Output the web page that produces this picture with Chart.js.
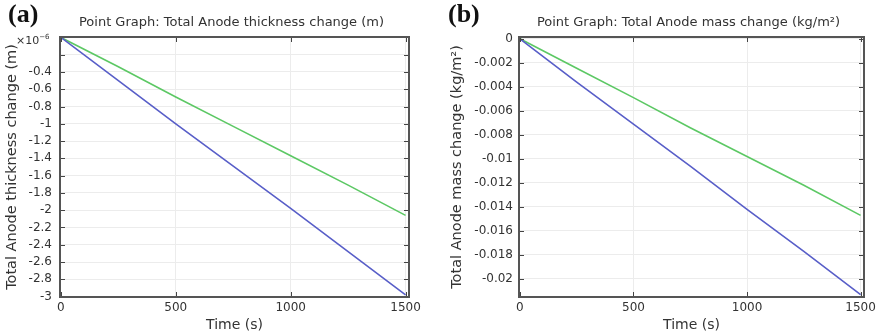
<!DOCTYPE html>
<html>
<head>
<meta charset="utf-8">
<script src="https://cdn.jsdelivr.net/npm/chart.js@4"></script>
<style>
    body { margin: 0; background: #fff; }
    .panel { position: absolute; top: 0; }
</style>
</head>
<body>
<div class="panel" style="left:0;"><canvas id="chart_a" width="440" height="335"></canvas></div>
<div class="panel" style="left:440px;"><canvas id="chart_b" width="442" height="335"></canvas></div>
<script>
// time points (s)
const times = [0, 250, 500, 750, 1000, 1250, 1500];

// (a) thickness change, units of 1e-6 m
const thick_blue = [0, -0.5, -1.0, -1.49, -1.98, -2.48, -2.98];
const thick_green = [0, -0.34, -0.69, -1.03, -1.37, -1.71, -2.06];
const thick_ticks = [0, -0.2, -0.4, -0.6, -0.8, -1, -1.2, -1.4, -1.6, -1.8, -2, -2.2, -2.4, -2.6, -2.8, -3];

// (b) mass change, kg/m2
const mass_blue = [0, -0.0036, -0.0071, -0.0106, -0.0142, -0.0177, -0.0213];
const mass_green = [0, -0.00245, -0.0049, -0.0074, -0.0098, -0.0122, -0.0147];
const mass_ticks = [0, -0.002, -0.004, -0.006, -0.008, -0.01, -0.012, -0.014, -0.016, -0.018, -0.02];

const time_ticks = [0, 500, 1000, 1500];

const blue = 'rgb(88, 94, 200)';
const green = 'rgb(92, 200, 100)';
const font_family = "'DejaVu Sans', sans-serif";

const panelText = {
    id: 'panelText',
    afterDatasetsDraw(chart, args, opts) {
        const ctx = chart.ctx;
        const area = chart.chartArea;
        const xs = chart.scales.x;
        const ys = chart.scales.y;
        ctx.save();

        // inner tick marks
        ctx.strokeStyle = '#444';
        ctx.lineWidth = 1;
        ctx.beginPath();
        ys.ticks.forEach(t => {
            let y = Math.round(ys.getPixelForValue(t.value)) + 0.5;
            ctx.moveTo(area.left, y); ctx.lineTo(area.left + 5, y);
            ctx.moveTo(area.right, y); ctx.lineTo(area.right - 5, y);
        });
        xs.ticks.forEach(t => {
            let x = Math.round(xs.getPixelForValue(t.value)) + 0.5;
            ctx.moveTo(x, area.top); ctx.lineTo(x, area.top + 5);
            ctx.moveTo(x, area.bottom); ctx.lineTo(x, area.bottom - 5);
        });
        ctx.stroke();

        // frame
        ctx.strokeStyle = '#555';
        ctx.lineWidth = 2;
        ctx.strokeRect(area.left, area.top, area.right - area.left, area.bottom - area.top);

        // panel letter
        ctx.fillStyle = '#111';
        ctx.font = "bold 26px 'Liberation Serif', serif";
        ctx.textBaseline = 'middle';
        ctx.textAlign = 'left';
        ctx.fillText(opts.letter, 8, 15);

        // title
        ctx.font = "13px " + font_family;
        ctx.fillStyle = '#333';
        ctx.textAlign = 'center';
        ctx.fillText(opts.title, (area.left + area.right) / 2 - 3, 23);

        // exponent
        if (opts.exponent) {
            ctx.textAlign = 'left';
            ctx.font = "11px " + font_family;
            ctx.fillText('×10', 16, 41);
            let w = ctx.measureText('×10').width;
            ctx.font = "7px " + font_family;
            ctx.fillText(opts.exponent, 16 + w, 37);
        }
        ctx.restore();
    }
};

function makeChart(canvas, blue_vals, green_vals, cfg) {
    return new Chart(canvas, {
        type: 'line',
        data: {
            labels: times,
            datasets: [
                { data: times.map((t, i) => ({ x: t, y: blue_vals[i] })), borderColor: blue, borderWidth: 1.6, pointRadius: 0, tension: 0 },
                { data: times.map((t, i) => ({ x: t, y: green_vals[i] })), borderColor: green, borderWidth: 1.6, pointRadius: 0, tension: 0 }
            ]
        },
        options: {
            responsive: false,
            animation: false,
            layout: { padding: { top: 37, right: cfg.right, left: 0, bottom: 0 } },
            plugins: {
                legend: { display: false },
                tooltip: { enabled: false },
                panelText: { letter: cfg.letter, title: cfg.title, exponent: cfg.exponent }
            },
            scales: {
                x: {
                    type: 'linear',
                    min: -4,
                    max: 1515,
                    afterBuildTicks: scale => { scale.ticks = time_ticks.map(v => ({ value: v })); },
                    afterFit: scale => { scale.height = 38; },
                    grid: { color: '#ececec', drawTicks: false },
                    border: { display: false },
                    ticks: { padding: 4, autoSkip: false, color: '#333', font: { family: font_family, size: 12 }, maxRotation: 0, callback: v => String(v) },
                    title: { display: true, text: 'Time (s)', color: '#333', font: { family: font_family, size: 14 }, padding: { top: 0, bottom: 1 } }
                },
                y: {
                    type: 'linear',
                    min: cfg.ymin,
                    max: cfg.ymax,
                    afterBuildTicks: scale => { scale.ticks = cfg.yticks.map(v => ({ value: v })); },
                    afterFit: scale => { scale.width = cfg.yWidth; },
                    grid: { color: '#ececec', drawTicks: false },
                    border: { display: false },
                    ticks: { padding: cfg.tickPad, autoSkip: false, color: '#333', font: { family: font_family, size: 12 }, callback: cfg.fmt },
                    title: { display: true, text: cfg.ytitle, color: '#333', font: { family: font_family, size: 14.5 }, padding: { top: cfg.ytitlePad, bottom: 0 } }
                }
            }
        },
        plugins: [panelText]
    });
}

makeChart(document.getElementById('chart_a'), thick_blue, thick_green, {
    letter: '(a)',
    title: 'Point Graph: Total Anode thickness change (m)',
    exponent: '−6',
    ytitle: 'Total Anode thickness change (m)',
    ymin: -3.005, ymax: 0.005,
    yticks: thick_ticks,
    fmt: v => (v === 0 || Math.abs(v + 0.2) < 1e-9) ? '' : Number(v.toFixed(1)).toString(),
    yWidth: 60, ytitlePad: 4, tickPad: 8, right: 31
});

makeChart(document.getElementById('chart_b'), mass_blue, mass_green, {
    letter: '(b)',
    title: 'Point Graph: Total Anode mass change (kg/m²)',
    exponent: null,
    ytitle: 'Total Anode mass change (kg/m²)',
    ymin: -0.0215, ymax: 0.00015,
    yticks: mass_ticks,
    fmt: v => Number(v.toFixed(3)).toString(),
    yWidth: 79, ytitlePad: 9, tickPad: 6, right: 18
});
</script>
</body>
</html>
